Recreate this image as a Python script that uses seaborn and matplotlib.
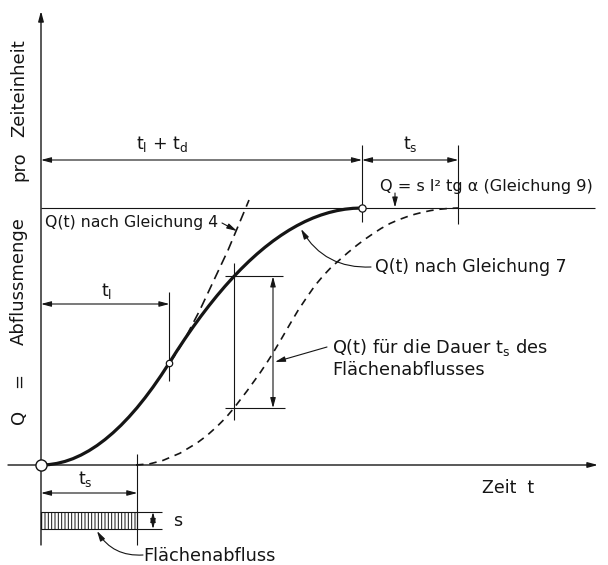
import matplotlib
matplotlib.use("Agg")
import matplotlib.pyplot as plt
import numpy as np
import pandas as pd
import seaborn as sns
from matplotlib.patches import Rectangle

sns.set_style("white")
plt.rcParams["font.family"] = ["DejaVu Sans"]
plt.rcParams["mathtext.default"] = "regular"
plt.rcParams["hatch.linewidth"] = 0.7

# ---------------- data (normalised: t_l + t_d = 1, Q_max = 1) ----------------
T_PEAK = 1.0     # t_l + t_d
T_S = 0.30       # duration of surface runoff t_s
T_L = 0.40       # t_l (inflection point)
Q_MAX = 1.0
T_MEAS = 0.601   # position of the vertical measurement between the curves

# Q(t) nach Gleichung 7 (solid)
t_solid = [0.0, 0.0249, 0.0498, 0.0748, 0.0997, 0.1246, 0.1495, 0.1745, 0.1994,
           0.2243, 0.2492, 0.2741, 0.2991, 0.3240, 0.3489, 0.3738, 0.3988,
           0.4237, 0.4486, 0.4735, 0.4984, 0.5234, 0.5483, 0.5732, 0.5981,
           0.6231, 0.6480, 0.6729, 0.6978, 0.7227, 0.7477, 0.7726, 0.7975,
           0.8224, 0.8474, 0.8723, 0.8972, 0.9221, 0.9470, 0.9720, 1.0]
q_solid = [0.0, 0.0015, 0.0062, 0.0139, 0.0247, 0.0387, 0.0557, 0.0758, 0.0990,
           0.1253, 0.1546, 0.1871, 0.2227, 0.2614, 0.3031, 0.3479, 0.3959,
           0.4446, 0.4916, 0.5365, 0.5793, 0.6201, 0.6588, 0.6954, 0.7299,
           0.7624, 0.7928, 0.8211, 0.8473, 0.8714, 0.8935, 0.9135, 0.9314,
           0.9473, 0.9611, 0.9727, 0.9823, 0.9898, 0.9953, 0.9987, 1.0]

# Q(t) fuer die Dauer t_s des Flaechenabflusses (dashed)
t_shift = [0.2960, 0.3396, 0.3801, 0.4330, 0.4860, 0.5171, 0.5483, 0.5763,
           0.6012, 0.6417, 0.6822, 0.7040, 0.7227, 0.7477, 0.7757, 0.8006,
           0.8287, 0.8536, 0.8785, 0.9034, 0.9315, 0.9564, 0.9844, 1.0093,
           1.0343, 1.0592, 1.0872, 1.1121, 1.1402, 1.1651, 1.1900, 1.2150,
           1.2430, 1.2710, 1.2991]
q_shift = [0.0, 0.0047, 0.0179, 0.0459, 0.0856, 0.1148, 0.1498, 0.1848,
           0.2218, 0.2879, 0.3580, 0.3988, 0.4358, 0.4883, 0.5486, 0.6012,
           0.6537, 0.6984, 0.7354, 0.7685, 0.7996, 0.8268, 0.8553, 0.8786,
           0.9000, 0.9202, 0.9397, 0.9533, 0.9661, 0.9759, 0.9837, 0.9903,
           0.9953, 0.9984, 1.0]

# Q(t) nach Gleichung 4 (dashed, continuation beyond t_l)
t_eq4 = [0.402, 0.433, 0.458, 0.495, 0.536, 0.583, 0.626, 0.648]
q_eq4 = [0.397, 0.459, 0.514, 0.603, 0.712, 0.837, 0.965, 1.031]

INK = "#151515"

# ---------------- figure / pixel layout helpers ----------------
X0, Y0, SX, SY = 41, 465, 321, 257
W, H = 608, 565


def P(px, py):
    return ((px - X0) / SX, (Y0 - py) / SY)


def X(px):
    return (px - X0) / SX


def Y(py):
    return (Y0 - py) / SY


fig = plt.figure(figsize=(W / 100, H / 100), dpi=100)
ax = fig.add_axes([0, 0, 1, 1])

thin = dict(color=INK, lw=0.8, solid_capstyle="butt")


def arrow(p_from, p_to, style="-|>", rad=0.0, lw=0.8):
    ax.annotate("", xy=p_to, xytext=p_from,
                arrowprops=dict(arrowstyle=f"{style},head_length=0.6,head_width=0.16",
                                lw=lw, color=INK, shrinkA=0, shrinkB=0,
                                mutation_scale=10,
                                connectionstyle=f"arc3,rad={rad}"))


def dim(p1, p2):
    arrow(p1, p2, style="<|-|>")


# ---------------- curves ----------------
df_solid = pd.DataFrame({"t": t_solid, "Q": q_solid})
df_shift = pd.DataFrame({"t": t_shift, "Q": q_shift})
df_eq4 = pd.DataFrame({"t": t_eq4, "Q": q_eq4})

sns.lineplot(data=df_solid, x="t", y="Q", ax=ax, color=INK, lw=2.3,
             sort=False, estimator=None, solid_capstyle="round",
             solid_joinstyle="round")
sns.lineplot(data=df_shift, x="t", y="Q", ax=ax, color=INK, lw=1.2,
             sort=False, estimator=None, linestyle=(0, (4.5, 3.5)))
sns.lineplot(data=df_eq4, x="t", y="Q", ax=ax, color=INK, lw=1.2,
             sort=False, estimator=None, linestyle=(0, (6, 3.5)))
ax.set_xlabel("")
ax.set_ylabel("")
ax.set_xlim(X(0), X(W))
ax.set_ylim(Y(H), Y(0))
ax.axis("off")

# ---------------- axes ----------------
arrow((0, Y(545)), (0, Y(11)), lw=1.0)               # y-axis
arrow((X(8), 0), (X(598), 0), lw=1.0)                 # x-axis
ax.plot([0, X(595)], [Q_MAX, Q_MAX], **thin)          # saturation level

# circles
ax.plot([0], [0], "o", ms=8, mfc="white", mec=INK, mew=1.0, zorder=6)
q_inf = float(np.interp(T_L, t_solid, q_solid))
ax.plot([T_L], [q_inf], "o", ms=4.6, mfc="white", mec=INK, mew=0.9, zorder=6)
ax.plot([T_PEAK], [Q_MAX], "o", ms=5.2, mfc="white", mec=INK, mew=0.9, zorder=6)

# ---------------- top dimensions ----------------
y_top = Y(160)
ax.plot([T_PEAK, T_PEAK], [Y(222), Y(145)], **thin)
ax.plot([T_PEAK + T_S, T_PEAK + T_S], [Y(224), Y(145)], **thin)
dim((0, y_top), (T_PEAK, y_top))
dim((T_PEAK, y_top), (T_PEAK + T_S, y_top))
ax.text(*P(162, 144), r"$t_l$ + $t_d$", ha="center", va="center", fontsize=12.5, color=INK)
ax.text(*P(410, 144), r"$t_s$", ha="center", va="center", fontsize=12.5, color=INK)

ax.text(*P(380, 186), "Q = s l² tg α (Gleichung 9)", ha="left", va="center",
        fontsize=11.6, color=INK)
arrow(P(395, 193), P(395, 207.5), lw=0.8)

ax.text(*P(45, 222), "Q(t) nach Gleichung 4", ha="left", va="center",
        fontsize=11.3, color=INK)
arrow(P(222, 223), P(237, 231), lw=0.8)

ax.text(*P(375, 267), "Q(t) nach Gleichung 7", ha="left", va="center",
        fontsize=12.5, color=INK)
arrow(P(371, 267), P(301, 229), rad=-0.3, lw=0.8)

# ---------------- t_l dimension ----------------
ax.plot([T_L, T_L], [Y(381), Y(292)], **thin)
dim((0, Y(304)), (T_L, Y(304)))
ax.text(*P(107, 291), r"$t_l$", ha="center", va="center", fontsize=12.5, color=INK)

# ---------------- vertical measure between curves ----------------
q_hi = float(np.interp(T_MEAS, t_solid, q_solid))
q_lo = float(np.interp(T_MEAS, t_shift, q_shift))
ax.plot([T_MEAS, T_MEAS], [Y(420), Y(263)], **thin)
ax.plot([X(225), X(283)], [q_hi, q_hi], **thin)
ax.plot([X(225), X(285)], [q_lo, q_lo], **thin)
dim((X(273), q_hi), (X(273), q_lo))

ax.text(*P(332, 347), "Q(t) für die Dauer $t_s$ des", ha="left", va="center",
        fontsize=12.8, color=INK)
ax.text(*P(332, 370), "Flächenabflusses", ha="left", va="center",
        fontsize=12.8, color=INK)
arrow(P(327, 347), P(275, 362), lw=0.8)

# ---------------- bottom: t_s and surface runoff ----------------
ax.plot([T_S, T_S], [Y(545), Y(454)], **thin)
dim((0, Y(493)), (T_S, Y(493)))
ax.text(*P(85, 479), r"$t_s$", ha="center", va="center", fontsize=12.5, color=INK)

rect = Rectangle((0, Y(529)), T_S, Y(512) - Y(529), facecolor="white",
                 edgecolor=INK, lw=0.8, hatch="|||||")
ax.add_patch(rect)
ax.plot([T_S, X(162)], [Y(512), Y(512)], **thin)
ax.plot([T_S, X(162)], [Y(529), Y(529)], **thin)
dim((X(153), Y(512)), (X(153), Y(529)))
ax.text(*P(178, 521), "s", ha="center", va="center", fontsize=12.5, color=INK)

ax.text(*P(143, 556), "Flächenabfluss", ha="left", va="center",
        fontsize=12.8, color=INK)
arrow(P(143, 555), P(97, 531), rad=-0.3, lw=0.8)

ax.text(*P(482, 488), "Zeit  t", ha="left", va="center", fontsize=12.5, color=INK)

# ---------------- y label (rotated words) ----------------
for word, cy in [("Zeiteinheit", 88), ("pro", 166), ("Abflussmenge", 281),
                 ("=", 380), ("Q", 417)]:
    ax.text(*P(19, cy), word, rotation=90, ha="center", va="center",
            fontsize=13, color=INK)

fig.savefig("out.png", dpi=100, facecolor="white")
